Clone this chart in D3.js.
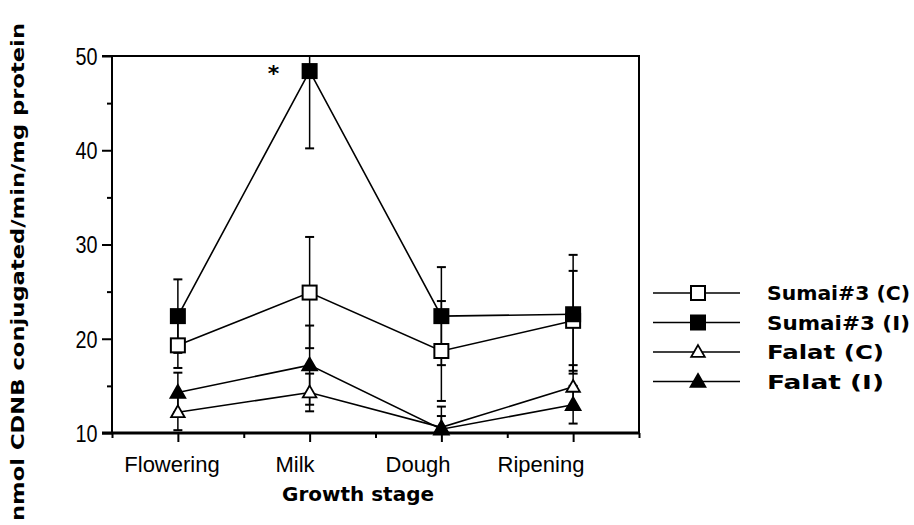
<!DOCTYPE html>
<html><head><meta charset="utf-8">
<script src="https://cdn.jsdelivr.net/npm/d3@7"></script>
<style>body{margin:0;background:#fff}svg{display:block}</style>
</head><body>
<svg id="c" width="914" height="525"></svg>
<script>
const categories = ["Flowering","Milk","Dough","Ripening"];
const sumaiC = [19.3, 24.9, 18.7, 21.9];
const sumaiCErr = [2.4, 5.9, 5.3, 5.3];
const sumaiI = [22.4, 48.4, 22.4, 22.6];
const sumaiIErr = [3.9, 8.2, 5.2, 6.3];
const falatC = [12.2, 14.3, 10.6, 14.9];
const falatCErr = [1.9, 2.0, 1.2, 2.3];
const falatI = [14.3, 17.2, 10.4, 13.0];
const falatIErr = [2.1, 4.2, 2.4, 2.0];
const yTicks = [10, 20, 30, 40, 50];
const seriesNames = ["Sumai#3 (C)", "Sumai#3 (I)", "Falat (C)", "Falat (I)"];

const series = [
  {name: seriesNames[0], v: sumaiC, e: sumaiCErr, shape: "square", fill: "#fff"},
  {name: seriesNames[1], v: sumaiI, e: sumaiIErr, shape: "square", fill: "#000"},
  {name: seriesNames[2], v: falatC, e: falatCErr, shape: "triangle", fill: "#fff"},
  {name: seriesNames[3], v: falatI, e: falatIErr, shape: "triangle", fill: "#000"}
];

const svg = d3.select("#c");
const L = 112, R = 639, T = 56, B = 433;
const x = d3.scaleLinear().domain([0, 8]).range([L, R]);
const catPos = i => x(2 * i + 1);
const y = d3.scaleLinear().domain([10, 50]).range([B, T]);
const labelX = d3.scalePoint().domain(categories).range([172, 541]);

svg.append("defs").append("clipPath").attr("id","clip")
  .append("rect").attr("x", L).attr("y", T).attr("width", R - L).attr("height", B - T);

// Y axis
const yAxis = d3.axisLeft(y).tickValues(d3.range(10, 50.1, 5)).tickSize(0).tickFormat("");
const gy = svg.append("g").attr("transform", `translate(${L},0)`).call(yAxis);
gy.select(".domain").remove();
gy.selectAll(".tick").append("line")
  .attr("x1", d => yTicks.includes(d) ? -10 : -5).attr("x2", 0)
  .attr("stroke", "#000").attr("stroke-width", 2);
gy.selectAll(".tick").filter(d => yTicks.includes(d)).append("text")
  .attr("x", -16).attr("dy", "0.36em").attr("text-anchor", "end")
  .attr("fill", "#000")
  .attr("transform", "scale(0.9,1.05)")
  .style("font-family", "'Liberation Sans',sans-serif")
  .style("font-size", "22px")
  .text(d => d);

// X axis
const xAxis = d3.axisBottom(x).tickValues(d3.range(0, 8.1, 1)).tickSize(0).tickFormat("");
const gx = svg.append("g").attr("transform", `translate(0,${B})`).call(xAxis);
gx.select(".domain").remove();
gx.selectAll(".tick").append("line")
  .attr("y1", 0).attr("y2", d => d % 2 === 1 ? 9 : 5)
  .attr("stroke", "#000").attr("stroke-width", 2);

// frame
svg.append("line").attr("x1", L).attr("x2", L).attr("y1", T).attr("y2", B).attr("stroke","#000").attr("stroke-width",2);
svg.append("line").attr("x1", L - 10).attr("x2", R).attr("y1", B).attr("y2", B).attr("stroke","#000").attr("stroke-width",3);
svg.append("line").attr("x1", L - 10).attr("x2", R + 1).attr("y1", T).attr("y2", T).attr("stroke","#000").attr("stroke-width",2);
svg.append("line").attr("x1", R).attr("x2", R).attr("y1", T).attr("y2", B).attr("stroke","#000").attr("stroke-width",2);

// category labels
svg.append("g").selectAll("text").data(categories).join("text")
  .attr("x", d => labelX(d)).attr("y", 472).attr("text-anchor", "middle")
  .style("font-family", "'Liberation Sans',sans-serif")
  .style("font-size", "22px")
  .text(d => d);

svg.append("text").attr("x", 358).attr("y", 501).attr("text-anchor","middle")
  .attr("textLength", 152).attr("lengthAdjust","spacingAndGlyphs")
  .style("font-family","'DejaVu Sans',sans-serif").style("font-weight","bold").style("font-size","20px")
  .text("Growth stage");

svg.append("text").attr("transform","translate(24,521) rotate(-90)")
  .attr("textLength", 498).attr("lengthAdjust","spacingAndGlyphs")
  .style("font-family","'DejaVu Sans',sans-serif").style("font-weight","bold").style("font-size","18px")
  .text("nmol CDNB conjugated/min/mg protein");

// plot
const plot = svg.append("g").attr("clip-path","url(#clip)");
const line = d3.line().x((d, i) => catPos(i)).y(d => y(d));

series.forEach(s => {
  const g = plot.append("g");
  s.v.forEach((v, i) => {
    const cx = catPos(i), lo = y(v - s.e[i]), hi = y(v + s.e[i]);
    g.append("line").attr("x1", cx).attr("x2", cx).attr("y1", lo).attr("y2", hi).attr("stroke","#000").attr("stroke-width",1.5);
    [lo, hi].forEach(yy => g.append("line").attr("x1", cx - 4.5).attr("x2", cx + 4.5).attr("y1", yy).attr("y2", yy).attr("stroke","#000").attr("stroke-width",2));
  });
});
series.forEach(s => {
  plot.append("path").datum(s.v).attr("d", line).attr("fill","none").attr("stroke","#000").attr("stroke-width",1.6);
});

function marker(g, shape, fill, cx, cy) {
  if (shape === "square") {
    g.append("rect").attr("x", cx - 7).attr("y", cy - 7).attr("width", 14).attr("height", 14)
      .attr("fill", fill).attr("stroke", "#000").attr("stroke-width", 2);
  } else {
    const sym = d3.symbol().type(d3.symbolTriangle).size(fill === "#000" ? 95 : 80);
    g.append("path").attr("d", sym()).attr("transform", `translate(${cx},${cy + 1})`)
      .attr("fill", fill).attr("stroke", "#000").attr("stroke-width", 1.8);
  }
}
series.forEach(s => {
  const g = svg.append("g");
  s.v.forEach((v, i) => marker(g, s.shape, s.fill, catPos(i), y(v)));
});

svg.append("text").attr("x", catPos(1) - 36).attr("y", y(sumaiI[1]) + 10).attr("text-anchor","middle")
  .style("font-family","'DejaVu Sans',sans-serif").style("font-weight","bold").style("font-size","22px")
  .text("*");

// legend
const leg = svg.append("g");
series.forEach((s, i) => {
  const ly = 293 + i * 29.5;
  leg.append("line").attr("x1", 653).attr("x2", 740).attr("y1", ly).attr("y2", ly).attr("stroke","#000").attr("stroke-width",1.6);
  marker(leg, s.shape, s.fill, 698, ly);
  leg.append("text").attr("x", 767).attr("y", ly + 7)
    .attr("textLength", s.name.length * 13)
    .attr("lengthAdjust","spacingAndGlyphs")
    .style("font-family","'DejaVu Sans',sans-serif").style("font-weight","bold").style("font-size","19px")
    .text(s.name);
});
</script>
</body></html>
